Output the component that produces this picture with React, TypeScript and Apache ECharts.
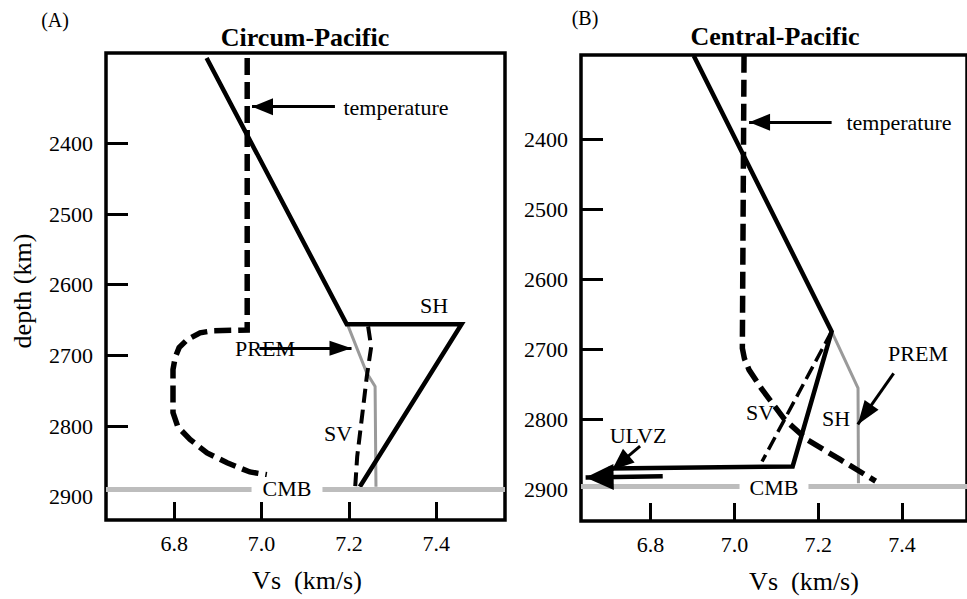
import React, { useEffect, useRef } from "react";
import * as echarts from "echarts";

type P = [number, number];

// ---------- Panel A : Circum-Pacific (Vs km/s, depth km) ----------
const aSH: P[] = [[6.874, 2279], [7.195, 2656], [7.458, 2656], [7.225, 2886]];
const aSV: P[] = [[7.244, 2659], [7.251, 2688], [7.241, 2730], [7.230, 2787], [7.219, 2843], [7.214, 2890]];
const aPREM: P[] = [[7.196, 2655], [7.241, 2725], [7.260, 2744], [7.262, 2886]];
const aTemperature: P[] = [
  [6.967, 2279], [6.967, 2664], [6.889, 2665], [6.859, 2668], [6.829, 2678], [6.811, 2689],
  [6.802, 2703], [6.797, 2720], [6.797, 2781], [6.808, 2801], [6.836, 2819], [6.875, 2838],
  [6.921, 2852], [6.973, 2865], [7.012, 2869],
];
const aCMB = 2889;

// ---------- Panel B : Central-Pacific ----------
const bSH: P[] = [[6.903, 2280], [7.232, 2674], [7.139, 2867], [6.70, 2870]];
const bSV: P[] = [[7.232, 2674], [7.066, 2860]];
const bPREM: P[] = [[7.232, 2674], [7.295, 2755], [7.296, 2891]];
const bTemperature: P[] = [
  [7.023, 2280], [7.019, 2698], [7.024, 2713], [7.035, 2729], [7.066, 2757],
  [7.120, 2800], [7.174, 2829], [7.252, 2857], [7.337, 2888],
];
const bCMB = 2896;

// ---------- axes ----------
const xTicks = [6.8, 7.0, 7.2, 7.4];
const yTicks = [2400, 2500, 2600, 2700, 2800];
const yLabels = [2400, 2500, 2600, 2700, 2800, 2900];

// annotation arrows: [from, to, headWidth, headLength, lineWidth]
type Arrow = [P, P, number, number, number];
const aArrows: Arrow[] = [
  [[7.168, 2348], [6.978, 2348], 17, 21, 3],
  [[6.995, 2690], [7.206, 2690], 15, 22, 3],
];
const bArrows: Arrow[] = [
  [[7.232, 2375], [7.035, 2375], 17, 21, 3],
  [[7.380, 2734], [7.2945, 2807], 17, 24, 3],
  [[6.775, 2838], [6.708, 2872], 18, 22, 3],
  [[6.829, 2881], [6.645, 2883], 26, 28, 4.5],
];

const FONT = "Liberation Serif";

function xAxis(gridIndex: number, min: number, max: number) {
  return {
    type: "value", gridIndex, min, max,
    axisLine: { show: false },
    splitLine: { show: false },
    axisTick: { show: true, inside: true, length: 18, lineStyle: { color: "#000", width: 3 }, customValues: xTicks },
    axisLabel: {
      show: true, customValues: xTicks, formatter: (v: number) => v.toFixed(1),
      color: "#000", fontFamily: FONT, fontSize: 22, margin: 12,
    },
  };
}
function yAxis(gridIndex: number, min: number, max: number) {
  return {
    type: "value", gridIndex, min, max, inverse: true,
    axisLine: { show: false },
    splitLine: { show: false },
    axisTick: { show: true, inside: true, length: 22, lineStyle: { color: "#000", width: 3 }, customValues: yTicks },
    axisLabel: {
      show: true, customValues: yLabels, formatter: (v: number) => String(v),
      color: "#000", fontFamily: FONT, fontSize: 22, margin: 13,
    },
  };
}

function lineSeries(idx: number, data: P[], color: string, width: number, type: any, z: number) {
  return {
    type: "line", xAxisIndex: idx, yAxisIndex: idx, data, showSymbol: false, symbol: "none",
    lineStyle: { color, width, type, cap: "butt", join: "miter" }, z, silent: true,
  };
}
function cmbSeries(idx: number, depth: number) {
  return {
    type: "line", xAxisIndex: idx, yAxisIndex: idx, data: [], z: 1, silent: true,
    markLine: {
      silent: true, symbol: ["none", "none"], label: { show: false },
      lineStyle: { color: "#bdbdbd", width: 5, type: "solid" },
      data: [{ yAxis: depth }],
    },
  };
}
function arrowSeries(idx: number, arrows: Arrow[]) {
  return {
    type: "line", xAxisIndex: idx, yAxisIndex: idx, data: [], z: 6, silent: true,
    markLine: {
      silent: true, label: { show: false }, symbol: ["none", "triangle"],
      lineStyle: { color: "#000", type: "solid" },
      data: arrows.map(([f, t, hw, hl, lw]) => [
        { coord: f, symbol: "none", lineStyle: { color: "#000", width: lw, type: "solid" } },
        { coord: t, symbol: "triangle", symbolSize: [hw, hl], symbolOffset: [0, hl / 2], itemStyle: { color: "#000" } },
      ]),
    },
  };
}

function text(t: string, x: number, y: number, size = 22, extra: any = {}, rotation = 0) {
  return {
    type: "text", x, y, z: 100, rotation,
    style: {
      text: t, fill: "#000", fontFamily: FONT, fontSize: size,
      align: "center", verticalAlign: "middle", ...extra,
    },
  };
}

export default function App() {
  const ref = useRef<HTMLDivElement>(null);
  useEffect(() => {
    const chart = echarts.init(ref.current!, null, { renderer: "svg" });
    chart.setOption({
      animation: false,
      backgroundColor: "#fff",
      textStyle: { fontFamily: FONT, color: "#000" },
      grid: [
        { left: 106, top: 53, width: 399, height: 467, show: true, borderColor: "#000", borderWidth: 3.5, backgroundColor: "transparent" },
        { left: 581, top: 55, width: 396, height: 466, show: true, borderColor: "#000", borderWidth: 3.5, backgroundColor: "transparent" },
      ],
      xAxis: [xAxis(0, 6.6435, 7.5576), xAxis(1, 6.634, 7.555)],
      yAxis: [yAxis(0, 2272, 2933), yAxis(1, 2279, 2945)],
      series: [
        cmbSeries(0, aCMB),
        lineSeries(0, aPREM, "#9a9a9a", 3, "solid", 2),
        lineSeries(0, aTemperature, "#000", 5.5, [17, 7], 3),
        lineSeries(0, aSV, "#000", 4, [14, 7], 3),
        lineSeries(0, aSH, "#000", 4.5, "solid", 4),
        arrowSeries(0, aArrows),
        cmbSeries(1, bCMB),
        lineSeries(1, bPREM, "#9a9a9a", 3, "solid", 2),
        lineSeries(1, bTemperature, "#000", 5.5, [17, 7], 3),
        lineSeries(1, bSV, "#000", 3.5, [14, 6], 3),
        lineSeries(1, bSH, "#000", 4.5, "solid", 4),
        arrowSeries(1, bArrows),
      ],
      graphic: [
        text("(A)", 55, 20, 20),
        text("(B)", 585, 18, 20),
        text("Circum-Pacific", 305, 37, 26, { fontWeight: "bold" }),
        text("Central-Pacific", 775, 36, 26, { fontWeight: "bold" }),
        text("depth (km)", 22, 291, 26, {}, Math.PI / 2),
        text("Vs  (km/s)", 307, 580, 26),
        text("Vs  (km/s)", 804, 581, 26),
        text("temperature", 396, 107),
        text("SH", 434, 305),
        text("PREM", 265, 348),
        text("SV", 338, 433),
        text("CMB", 287, 488, 22, { backgroundColor: "#fff", padding: [0, 11] }),
        text("temperature", 899, 122),
        text("PREM", 918, 353),
        text("SV", 760, 412),
        text("SH", 836, 418),
        text("ULVZ", 638, 435),
        text("CMB", 774, 487, 22, { backgroundColor: "#fff", padding: [0, 10] }),
      ],
    });
    return () => chart.dispose();
  }, []);
  return <div ref={ref} style={{ position: "absolute", left: 0, top: 0, width: 967, height: 599 }} />;
}
